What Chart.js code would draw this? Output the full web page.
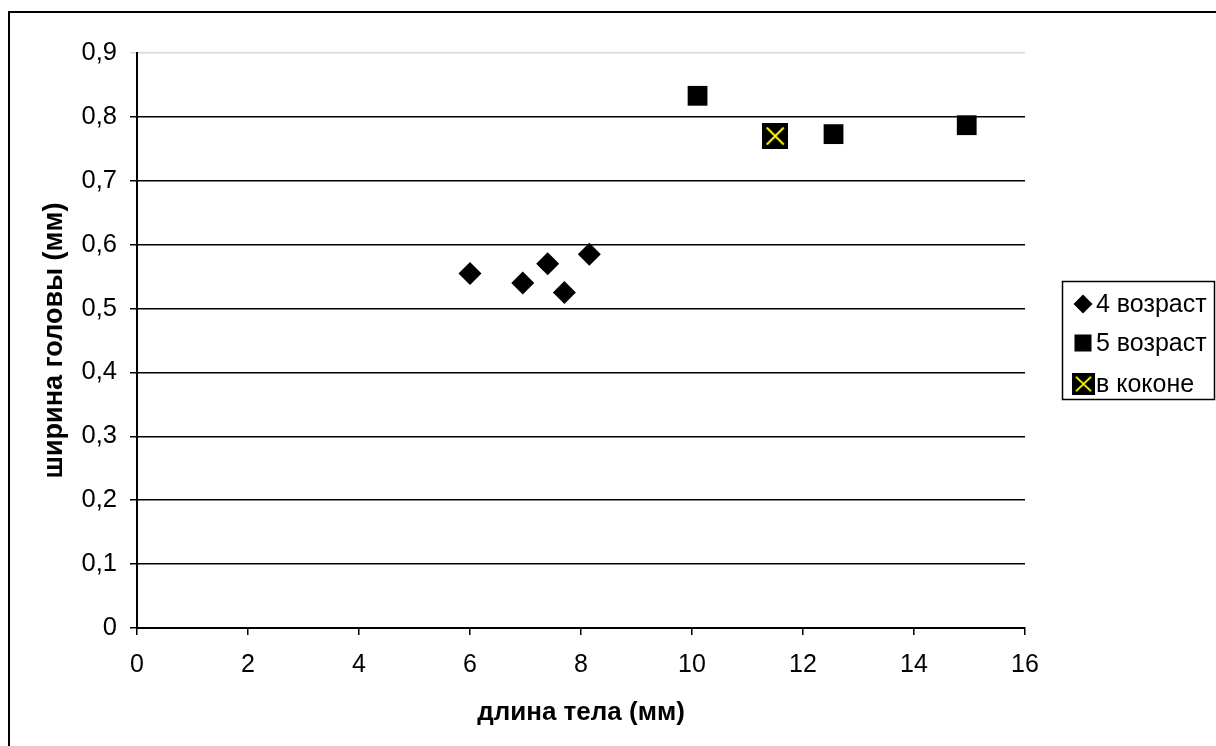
<!DOCTYPE html>
<html>
<head>
<meta charset="utf-8">
<script src="https://cdn.jsdelivr.net/npm/chart.js@4/dist/chart.umd.min.js"></script>
<style>
  html, body { margin: 0; padding: 0; background: #fff; }
  #wrap { width: 1216px; height: 746px; }
</style>
</head>
<body>
<div id="wrap"><canvas id="grafica"></canvas></div>
<script>
// datos
const edad4X = [6.0, 6.95, 7.4, 7.7, 8.15];
const edad4Y = [0.555, 0.54, 0.57, 0.525, 0.585];
const edad5X = [10.1, 12.55, 14.95];
const edad5Y = [0.833, 0.773, 0.787];
const kokonX = [11.5];
const kokonY = [0.77];
const nombres = ['4 возраст', '5 возраст', 'в коконе'];
const tituloX = 'длина тела (мм)';
const tituloY = 'ширина головы (мм)';

const fuente = 'Liberation Sans, Arial, sans-serif';

function puntos(xs, ys) {
    return xs.map(function (x, i) { return { x: x, y: ys[i] }; });
}

// marcador para "в коконе": cuadro negro con cruz amarilla
function marcaKokon(tam) {
    const c = document.createElement('canvas');
    c.width = tam; c.height = tam;
    const g = c.getContext('2d');
    g.fillStyle = '#000';
    g.fillRect(0, 0, tam, tam);
    g.strokeStyle = '#ffff00';
    g.lineWidth = 2;
    const m = 4.5;
    g.beginPath();
    g.moveTo(m, m); g.lineTo(tam - m, tam - m);
    g.moveTo(tam - m, m); g.lineTo(m, tam - m);
    g.stroke();
    return c;
}
const iconoKokon = marcaKokon(26);

// leyenda propia con marco, a la derecha
const leyenda = {
    id: 'leyenda',
    afterDraw: function (chart) {
        const ctx = chart.ctx;
        ctx.save();
        // marco exterior
        ctx.strokeStyle = '#000';
        ctx.lineWidth = 2;
        ctx.strokeRect(9, 12, 1220, 750);

        const x0 = 1062, y0 = 281, w = 152, h = 118;
        const filas = [304, 343, 384];
        ctx.lineWidth = 1.5;
        ctx.strokeRect(x0 + 0.5, y0 + 0.5, w, h);
        ctx.font = '25px ' + fuente;
        ctx.textBaseline = 'middle';
        chart.data.datasets.forEach(function (ds, i) {
            const cy = filas[i];
            const cx = 1083;
            ctx.fillStyle = '#000';
            if (i === 0) {
                ctx.beginPath();
                ctx.moveTo(cx, cy - 9.5); ctx.lineTo(cx + 9.5, cy);
                ctx.lineTo(cx, cy + 9.5); ctx.lineTo(cx - 9.5, cy);
                ctx.closePath(); ctx.fill();
            } else if (i === 1) {
                ctx.fillRect(cx - 8.5, cy - 8.5, 17, 17);
            } else {
                ctx.drawImage(iconoKokon, cx - 11, cy - 11, 23, 22);
            }
            ctx.fillStyle = '#000';
            ctx.fillText(ds.label, 1096, cy + 1);
        });
        ctx.restore();
    }
};

const ctx = document.getElementById('grafica').getContext('2d');
new Chart(ctx, {
    type: 'scatter',
    data: {
        datasets: [{
            label: nombres[0],
            data: puntos(edad4X, edad4Y),
            pointStyle: 'rectRot',
            pointRadius: 11.5,
            backgroundColor: '#000',
            borderColor: '#000',
            borderWidth: 0
        }, {
            label: nombres[1],
            data: puntos(edad5X, edad5Y),
            pointStyle: 'rect',
            pointRadius: 14,
            backgroundColor: '#000',
            borderColor: '#000',
            borderWidth: 0
        }, {
            label: nombres[2],
            data: puntos(kokonX, kokonY),
            pointStyle: iconoKokon,
            backgroundColor: '#000',
            borderColor: '#000'
        }]
    },
    options: {
        responsive: true,
        maintainAspectRatio: false,
        animation: false,
        layout: { padding: { left: 0, top: 53, right: 191, bottom: 0 } },
        plugins: {
            legend: { display: false },
            tooltip: { enabled: false }
        },
        scales: {
            x: {
                type: 'linear',
                min: 0,
                max: 16,
                afterFit: function (s) { s.height = 118; },
                ticks: {
                    stepSize: 2,
                    color: '#000',
                    padding: 15,
                    font: { family: fuente, size: 25 }
                },
                grid: { drawOnChartArea: false, color: '#000', tickLength: 7, lineWidth: 1.5 },
                border: { color: '#000', width: 2 },
                title: {
                    display: true,
                    text: tituloX,
                    color: '#000',
                    font: { family: fuente, size: 26, weight: 'bold' },
                    padding: { top: 0, bottom: 18 }
                }
            },
            y: {
                min: 0,
                max: 0.9,
                afterFit: function (s) { s.width = 137; },
                ticks: {
                    stepSize: 0.1,
                    color: '#000',
                    padding: 13,
                    font: { family: fuente, size: 25.5 },
                    callback: function (v) {
                        const r = Math.round(v * 10) / 10;
                        return r === 0 ? '0' : r.toFixed(1).replace('.', ',');
                    }
                },
                grid: {
                    color: function (c) {
                        return Math.round(c.tick.value * 10) === 9 ? '#d8d8d8' : '#000';
                    },
                    lineWidth: 1.5,
                    tickLength: 7
                },
                border: { color: '#000', width: 2 },
                title: {
                    display: true,
                    text: tituloY,
                    color: '#000',
                    font: { family: fuente, size: 27, weight: 'bold' },
                    padding: { top: 38, bottom: 0 }
                }
            }
        }
    },
    plugins: [leyenda]
});
</script>
</body>
</html>
